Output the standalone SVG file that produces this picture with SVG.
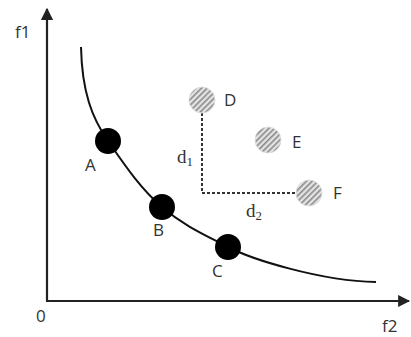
<svg xmlns="http://www.w3.org/2000/svg" width="411" height="337" viewBox="0 0 411 337">
<style>
.lbl{font-family:"Open Sans","Liberation Sans",sans-serif;font-size:17px;fill:#333}
.ser{font-family:"Liberation Serif","DejaVu Serif",serif;font-size:19px;fill:#333}
.sub{font-size:13px}
.axis{stroke:#222;stroke-width:2.2;fill:none}
.dot{fill:#000}
.hatch{fill:url(#hp);stroke:#ddd;stroke-width:0.8}
.dash{stroke:#333;stroke-width:2;stroke-dasharray:3,2;fill:none}
</style>
<defs>
<pattern id="hp" patternUnits="userSpaceOnUse" width="4" height="4" patternTransform="rotate(45)">
<rect width="4" height="4" fill="#e4e4e4"/>
<rect width="1.6" height="4" fill="#8a8a8a"/>
</pattern>
<marker id="ah" viewBox="0 0 10 10" refX="9" refY="5" markerWidth="5.5" markerHeight="5.5" orient="auto" markerUnits="strokeWidth">
<path d="M0,0 L10,5 L0,10 z" fill="#222"/>
</marker>
</defs>
<g id="axes">
<line class="axis" x1="47" y1="301" x2="47" y2="9" marker-end="url(#ah)"/>
<line class="axis" x1="46" y1="301" x2="409" y2="301" marker-end="url(#ah)"/>
<text class="lbl" x="15" y="38">f1</text>
<text class="lbl" x="36" y="322">0</text>
<text class="lbl" x="382" y="332">f2</text>
</g>
<g id="connectors">
<path d="M81,47 C82,92 92,118 108,141 S140,188 162,207 S205,235 228,247 S320,281 376,282" stroke="#111" stroke-width="2" fill="none"/>
<path class="dash" d="M202,113 L202,193 L297,193"/>
</g>
<g id="A"><circle class="dot" cx="108" cy="141" r="13"/><text class="lbl" x="85" y="171">A</text></g>
<g id="B"><circle class="dot" cx="162" cy="207" r="13"/><text class="lbl" x="153" y="236">B</text></g>
<g id="C"><circle class="dot" cx="228" cy="247" r="13"/><text class="lbl" x="212" y="277">C</text></g>
<g id="D"><circle class="hatch" cx="202" cy="100" r="13"/><text class="lbl" x="224" y="106">D</text></g>
<g id="E"><circle class="hatch" cx="268" cy="140" r="13"/><text class="lbl" x="292" y="148">E</text></g>
<g id="F"><circle class="hatch" cx="309" cy="193" r="13"/><text class="lbl" x="333" y="199">F</text></g>
<g id="d1"><text class="ser" x="177" y="163">d<tspan class="sub" dy="3">1</tspan></text></g>
<g id="d2"><text class="ser" x="246" y="217">d<tspan class="sub" dy="3">2</tspan></text></g>
</svg>
